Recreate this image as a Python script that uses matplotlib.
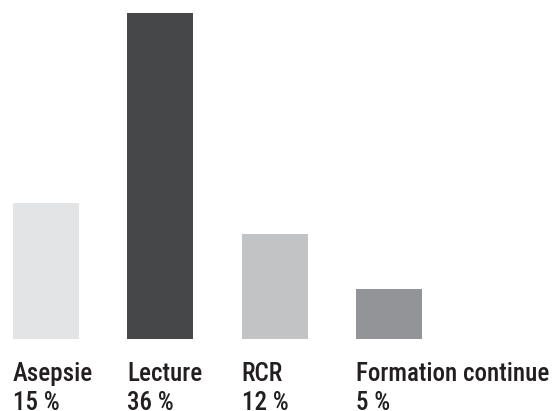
import matplotlib
matplotlib.use("Agg")
import matplotlib.pyplot as plt

categories = ["Asepsie", "Lecture", "RCR", "Formation continue"]
# bar heights (in % units)
values = [15, 36, 11.6, 5.5]
value_labels = ["15 %", "36 %", "12 %", "5 %"]
colors = ["#e3e4e5", "#464749", "#c2c3c5", "#939497"]

fam = ["Roboto Condensed", "DejaVu Sans"]

W, H = 553, 411
fig = plt.figure(figsize=(W / 100, H / 100), dpi=100)
ax = fig.add_axes([0, 72 / H, 1, 339 / H])
spacing = 114.3
width = 66 / spacing
x = list(range(len(categories)))
ax.bar(x, values, width=width, color=colors, align="center")
ax.set_xlim(-46 / spacing, (W - 46) / spacing)
ax.set_ylim(0, 36 * 339 / 326)
ax.axis("off")

txt_color = "#231f20"
x0, x1 = ax.get_xlim()
for i, (c, v) in enumerate(zip(categories, value_labels)):
    xl = i - width / 2
    xf = (xl - x0) / (x1 - x0)
    fig.text(xf, 30 / H, c, family=fam, fontsize=18, color=txt_color,
             ha="left", va="baseline", weight="medium")
    fig.text(xf, 1 / H, v, family=fam, fontsize=18, color=txt_color,
             ha="left", va="baseline", weight="medium")

fig.savefig("out.png", dpi=100)
